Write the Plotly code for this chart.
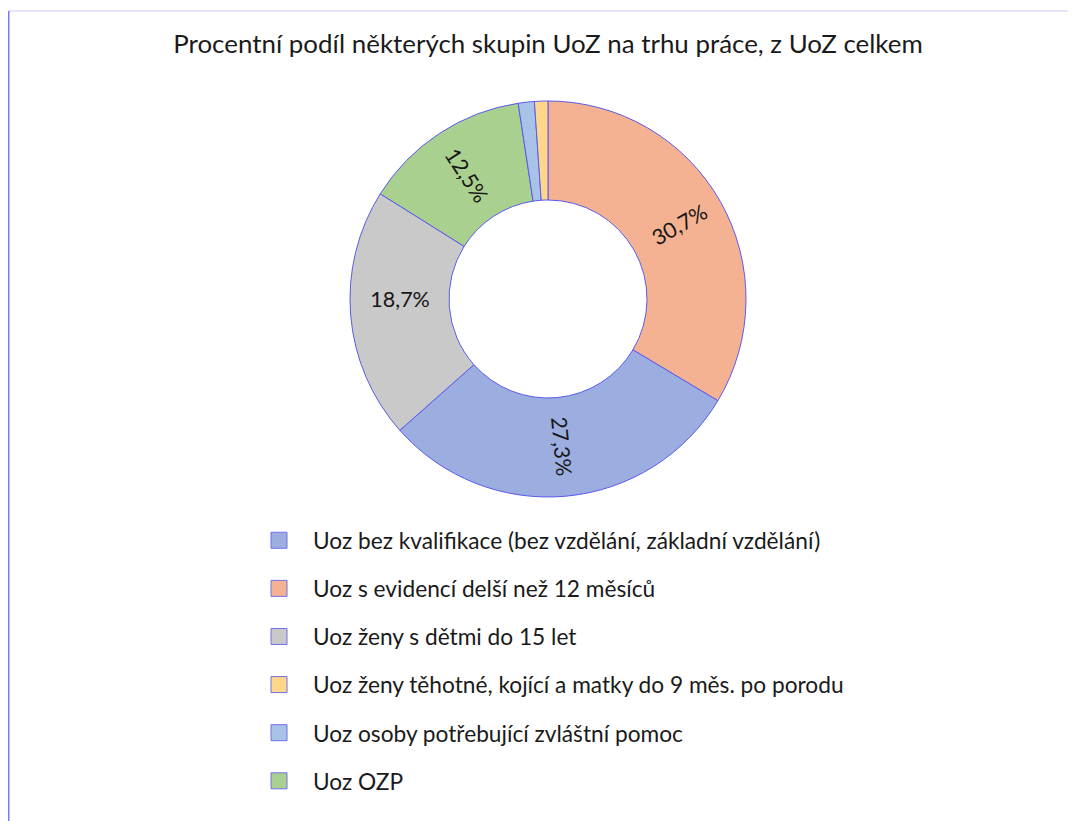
import plotly.graph_objects as go

# Pie data (clockwise from 12 o'clock, as drawn)
pie_labels = [
    "Uoz s evidencí delší než 12 měsíců",
    "Uoz bez kvalifikace (bez vzdělání, základní vzdělání)",
    "Uoz ženy s dětmi do 15 let",
    "Uoz OZP",
    "Uoz osoby potřebující zvláštní pomoc",
    "Uoz ženy těhotné, kojící a matky do 9 měs. po porodu",
]
pie_values = [30.7, 27.3, 18.7, 12.5, 1.2, 1.0]
pie_text = ["30,7%", "27,3%", "18,7%", "12,5%", "", ""]
pie_colors = ["#F5B292", "#9CAEE0", "#C9C9C9", "#A9D08F", "#A9C3E8", "#FFD68A"]

# Legend order as in the reference
legend_labels = [
    "Uoz bez kvalifikace (bez vzdělání, základní vzdělání)",
    "Uoz s evidencí delší než 12 měsíců",
    "Uoz ženy s dětmi do 15 let",
    "Uoz ženy těhotné, kojící a matky do 9 měs. po porodu",
    "Uoz osoby potřebující zvláštní pomoc",
    "Uoz OZP",
]

title_text = "Procentní podíl některých skupin UoZ na trhu práce, z UoZ celkem"
FONT = "Lato, 'Open Sans', sans-serif"

color_of = dict(zip(pie_labels, pie_colors))

W, H = 1076, 821
OFF = 8  # page body margin
domain = dict(x=[(350 - OFF) / W, (746 - OFF) / W],
              y=[1 - (497 - OFF) / H, 1 - (101 - OFF) / H])

fig = go.Figure()

# first slice label shown via overlay (to keep the radial orientation)
main_text = ["" if i == 0 else t for i, t in enumerate(pie_text)]
fig.add_trace(go.Pie(
    labels=pie_labels,
    values=pie_values,
    text=main_text,
    textinfo="text",
    textposition="inside",
    insidetextorientation="radial",
    sort=False,
    direction="clockwise",
    rotation=0,
    hole=0.5,
    marker=dict(colors=pie_colors, line=dict(color="#5A5AEE", width=1)),
    textfont=dict(family=FONT, size=21.5, color="#161616"),
    showlegend=False,
    hoverinfo="label+text",
    domain=domain,
))

# transparent overlay pie: a narrow slice centred on the first slice carries its label
total = sum(pie_values)
half = pie_values[0] / 2
w = 0.06 * total
fig.add_trace(go.Pie(
    labels=["a", "b", "c"],
    values=[half - w / 2, w, total - half - w / 2],
    text=["", pie_text[0], ""],
    textinfo="text",
    textposition="inside",
    insidetextorientation="radial",
    sort=False,
    direction="clockwise",
    rotation=0,
    hole=0.5,
    marker=dict(colors=["rgba(0,0,0,0)"] * 3, line=dict(width=0)),
    textfont=dict(family=FONT, size=21.5, color="#161616"),
    showlegend=False,
    hoverinfo="skip",
    domain=domain,
))

for i, lab in enumerate(legend_labels):
    fig.add_trace(go.Scatter(
        x=[None], y=[None], mode="markers", name=lab,
        legendgroup=f"g{i}",
        marker=dict(symbol="square", size=19, color=color_of[lab],
                    line=dict(color="#7070E8", width=1)),
    ))

fig.update_layout(
    width=W, height=H,
    margin=dict(l=0, r=0, t=0, b=0),
    paper_bgcolor="white", plot_bgcolor="white",
    title=dict(text=title_text, x=(548 - OFF) / W, xanchor="center",
               y=1 - (44 - OFF) / H, yanchor="middle",
               font=dict(family=FONT, size=25.9, color="#1a1a1a")),
    xaxis=dict(visible=False), yaxis=dict(visible=False),
    legend=dict(
        x=(245 - OFF) / W, xanchor="left",
        y=1 - (519 - OFF) / H, yanchor="top",
        orientation="v",
        itemwidth=58,
        tracegroupgap=15.6,
        font=dict(family=FONT, size=22.7, color="#1a1a1a"),
        bgcolor="rgba(0,0,0,0)",
    ),
    shapes=[
        dict(type="line", xref="paper", yref="paper",
             x0=0.75 / W, x1=1, y0=1 - 3 / H, y1=1 - 3 / H,
             line=dict(color="#CBCBF2", width=1)),
        dict(type="line", xref="paper", yref="paper",
             x0=0.75 / W, x1=0.75 / W, y0=0, y1=1 - 3 / H,
             line=dict(color="#7878FF", width=1.5)),
    ],
)

fig.write_html("out.html")
